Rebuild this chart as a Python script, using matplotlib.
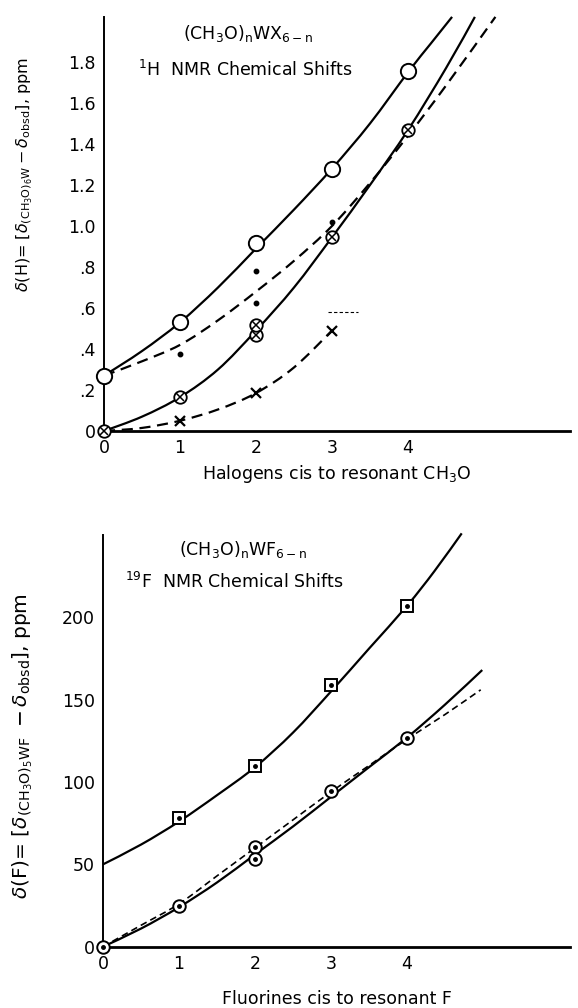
import matplotlib
matplotlib.use("Agg")
import matplotlib.pyplot as plt
from matplotlib.path import Path
from matplotlib.patches import PathPatch

plt.rcParams['font.family'] = ['DejaVu Sans']
plt.rcParams['mathtext.fontset'] = 'dejavusans'

# ---------------- Top panel: 1H NMR ----------------
h_xticks = [0, 1, 2, 3, 4]
h_yticks = [0, 0.2, 0.4, 0.6, 0.8, 1.0, 1.2, 1.4, 1.6, 1.8]
h_yticklabels = ['0', '.2', '.4', '.6', '.8', '1.0', '1.2', '1.4', '1.6', '1.8']

# open circles
hA_x = [0, 1, 2, 3, 4]
hA_y = [0.27, 0.53, 0.915, 1.276, 1.756]
# solid curve through open circles
hA_cx = [0, 0.5, 1, 1.5, 2, 2.5, 3, 3.5, 4, 4.3, 4.58]
hA_cy = [0.27, 0.39, 0.53, 0.70, 0.89, 1.08, 1.28, 1.50, 1.75, 1.89, 2.02]

# small dots
hB_x = [1, 2, 2, 3]
hB_y = [0.375, 0.626, 0.78, 1.02]
# dashed curve
hB_cx = [0, 0.5, 1, 1.5, 2, 2.5, 3, 3.5, 4, 4.5, 5.15]
hB_cy = [0.27, 0.34, 0.42, 0.54, 0.68, 0.83, 1.0, 1.21, 1.44, 1.685, 2.02]

# circled crosses
hC_x = [0, 1, 2, 2, 3, 4]
hC_y = [0, 0.165, 0.468, 0.517, 0.945, 1.468]
hC_cx = [0, 0.5, 1, 1.5, 2, 2.5, 3, 3.5, 4, 4.5, 4.88]
hC_cy = [0, 0.07, 0.165, 0.30, 0.49, 0.70, 0.945, 1.20, 1.468, 1.77, 2.02]

# crosses
hD_x = [1, 2, 3]
hD_y = [0.05, 0.187, 0.49]
hD_cx = [0, 0.5, 1, 1.5, 2, 2.5, 3]
hD_cy = [0, 0.015, 0.05, 0.105, 0.185, 0.31, 0.49]
# short dashed stub
hE_x = [2.95, 3.34]
hE_y = [0.58, 0.58]

# ---------------- Bottom panel: 19F NMR ----------------
f_xticks = [0, 1, 2, 3, 4]
f_yticks = [0, 50, 100, 150, 200]
f_yticklabels = ['0', '50', '100', '150', '200']

fS_x = [1, 2, 3, 4]
fS_y = [78, 109.7, 159, 207]
fS_cx = [0, 0.5, 1, 1.5, 2, 2.5, 3, 3.5, 4, 4.36, 4.72]
fS_cy = [50, 62, 76, 92, 109, 130, 155, 181, 207, 228, 251]

fO_x = [0, 1, 2, 2, 3, 4]
fO_y = [0, 25, 60.7, 53.2, 94.7, 127]
fO_cx = [0, 0.5, 1, 1.5, 2, 2.5, 3, 3.5, 4, 4.5, 4.99]
fO_cy = [0, 11, 24, 39, 56, 73, 91, 109, 127, 147, 168]
fD_cx = [0, 0.5, 1, 1.5, 2, 2.5, 3, 3.5, 4, 4.5, 4.97]
fD_cy = [0, 13, 26, 43, 60, 77, 94, 110, 126, 141, 156]

W, H = 578, 1008
fig = plt.figure(figsize=(W / 100, H / 100), dpi=100)

FS = 12.5
lw = 1.6


def smooth(ax, xs, ys, **kw):
    """Draw a smooth curve through the given points using Bezier segments."""
    pts = list(zip(xs, ys))
    verts = [pts[0]]
    codes = [Path.MOVETO]
    n = len(pts)
    for i in range(n - 1):
        p0 = pts[i - 1] if i > 0 else pts[i]
        p1 = pts[i]
        p2 = pts[i + 1]
        p3 = pts[i + 2] if i + 2 < n else pts[i + 1]
        c1 = (p1[0] + (p2[0] - p0[0]) / 6, p1[1] + (p2[1] - p0[1]) / 6)
        c2 = (p2[0] - (p3[0] - p1[0]) / 6, p2[1] - (p3[1] - p1[1]) / 6)
        verts += [c1, c2, p2]
        codes += [Path.CURVE4] * 3
    patch = PathPatch(Path(verts, codes), fill=False, edgecolor='black',
                      clip_on=False, capstyle='butt', **kw)
    ax.add_patch(patch)


def style(ax, xmax, ymax):
    for s in ['top', 'right']:
        ax.spines[s].set_visible(False)
    ax.spines['left'].set_linewidth(1.4)
    ax.spines['bottom'].set_linewidth(2.0)
    ax.set_xlim(0, xmax)
    ax.set_ylim(0, ymax)
    ax.tick_params(length=0, labelsize=FS, pad=6)


# top axes
ax1 = fig.add_axes([104 / W, 1 - 431 / H, 466 / W, 414 / H])
smooth(ax1, hA_cx, hA_cy, lw=lw)
smooth(ax1, hB_cx, hB_cy, lw=lw, linestyle=(0, (5, 3)))
smooth(ax1, hC_cx, hC_cy, lw=lw)
smooth(ax1, hD_cx, hD_cy, lw=lw, linestyle=(0, (5, 3)))
ax1.plot(hE_x, hE_y, '--', color='black', lw=0.8, dashes=(3, 2))
ax1.plot(hA_x, hA_y, 'o', ms=11, mfc='white', mec='black', mew=1.4, clip_on=False, zorder=5)
ax1.plot(hB_x, hB_y, 'o', ms=3.2, color='black', clip_on=False, zorder=5)
ax1.plot(hC_x, hC_y, 'o', ms=9, mfc='white', mec='black', mew=1.3, clip_on=False, zorder=5)
ax1.plot(hC_x, hC_y, 'x', ms=6, color='black', mew=1.1, clip_on=False, zorder=6)
ax1.plot(hD_x, hD_y, 'x', ms=7, color='black', mew=1.6, clip_on=False, zorder=5)
ax1.set_xticks(h_xticks)
ax1.set_yticks(h_yticks)
ax1.set_yticklabels(h_yticklabels)
style(ax1, 466 / 76, 414 / 205)
ax1.set_xlabel(r'Halogens cis to resonant CH$_3$O', fontsize=FS, labelpad=4)
ax1.set_ylabel(r'$\delta$(H)= $\left[\delta_{(\mathrm{CH_3O})_6\mathrm{W}}-\delta_{\mathrm{obsd}}\right]$, ppm',
               fontsize=11.5)
ax1.yaxis.set_label_coords(-0.148, 0.62)
fig.text(248 / W, 1 - 33 / H, r'(CH$_3$O)$_\mathrm{n}$WX$_{6-\mathrm{n}}$', ha='center', va='center', fontsize=FS)
fig.text(138 / W, 1 - 70 / H, r'$^1$H  NMR Chemical Shifts', ha='left', va='center', fontsize=FS)

# bottom axes
ax2 = fig.add_axes([103 / W, 1 - 946.7 / H, 467 / W, 411.7 / H])
smooth(ax2, fS_cx, fS_cy, lw=lw)
smooth(ax2, fO_cx, fO_cy, lw=lw)
smooth(ax2, fD_cx, fD_cy, lw=1.2, linestyle=(0, (4, 2.5)))
ax2.plot(fS_x, fS_y, 's', ms=9, mfc='white', mec='black', mew=1.4, clip_on=False, zorder=5)
ax2.plot(fS_x, fS_y, 'o', ms=2.5, color='black', clip_on=False, zorder=6)
ax2.plot(fO_x, fO_y, 'o', ms=9, mfc='white', mec='black', mew=1.4, clip_on=False, zorder=5)
ax2.plot(fO_x, fO_y, 'o', ms=2.5, color='black', clip_on=False, zorder=6)
ax2.set_xticks(f_xticks)
ax2.set_yticks(f_yticks)
ax2.set_yticklabels(f_yticklabels)
style(ax2, 467 / 76, 250)
ax2.set_xlabel('Fluorines cis to resonant F', fontsize=FS, labelpad=12)
ax2.set_ylabel(r'$\delta$(F)= $\left[\delta_{(\mathrm{CH_3O})_5\mathrm{WF}}\ -\delta_{\mathrm{obsd}}\right]$, ppm',
               fontsize=14.5)
ax2.yaxis.set_label_coords(-0.145, 0.487)
fig.text(243 / W, 1 - 550 / H, r'(CH$_3$O)$_\mathrm{n}$WF$_{6-\mathrm{n}}$', ha='center', va='center', fontsize=FS)
fig.text(125 / W, 1 - 582 / H, r'$^{19}$F  NMR Chemical Shifts', ha='left', va='center', fontsize=FS)

fig.savefig('out.png', dpi=100)
